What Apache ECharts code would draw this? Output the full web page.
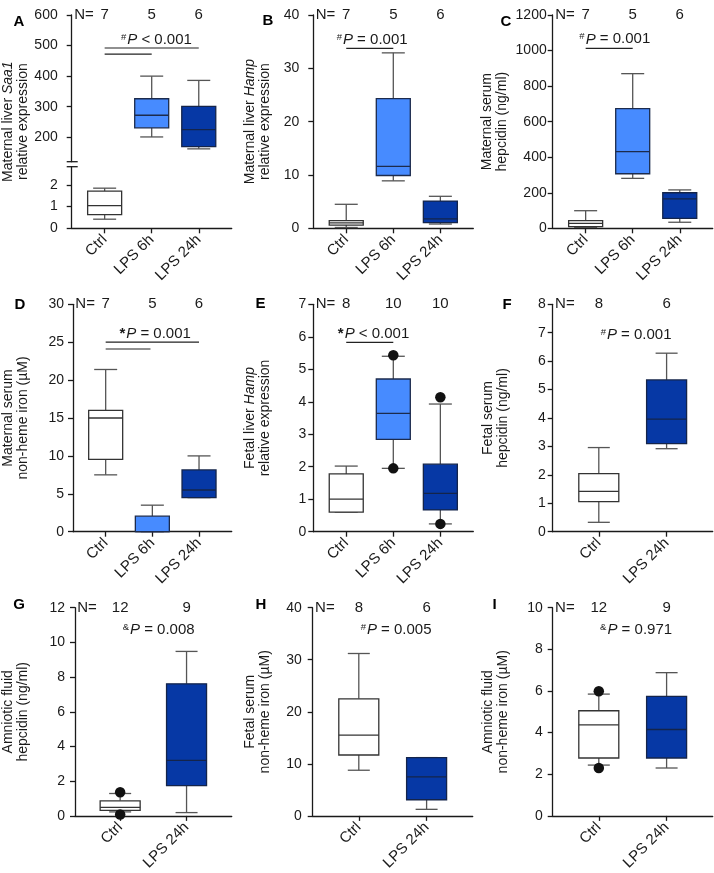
<!DOCTYPE html>
<html>
<head>
<meta charset="utf-8">
<script src="https://cdn.jsdelivr.net/npm/echarts@6/dist/echarts.min.js"></script>
<style>
  html, body { margin: 0; padding: 0; background: #fff; }
  #chart { width: 714px; height: 873px; }
</style>
</head>
<body>
<div id="chart"></div>
<script>
// ---- data ----
var groups3 = ['Ctrl', 'LPS 6h', 'LPS 24h'];
var groups2 = ['Ctrl', 'LPS 24h'];

// box values per group: [min, q1, median, q3, max]
var boxA = [[0.42, 0.63, 1.05, 1.71, 1.85], [201, 231, 272, 326, 400], [162, 169, 225, 301, 386]];
var boxB = [[0.15, 0.6, 1.0, 1.45, 4.5], [8.9, 9.9, 11.6, 24.3, 32.9], [0.8, 1.06, 1.75, 5.1, 6.0]];
var boxC = [[5, 9, 28, 43, 99], [281, 307, 431, 673, 870], [34, 56, 165, 200, 216]];
var boxD = [[7.5, 9.55, 15.0, 16.0, 21.4], [0, 0, 0, 2.05, 3.5], [4.5, 4.5, 5.5, 8.15, 10.0]];
var boxE = [[0.6, 0.6, 1.0, 1.78, 2.02], [1.95, 2.84, 3.64, 4.70, 5.4], [0.24, 0.67, 1.18, 2.08, 3.93]];
var boxF = [[0.33, 1.06, 1.42, 2.04, 2.96], [2.92, 3.10, 3.96, 5.34, 6.28]];
var boxG = [[0.23, 0.32, 0.49, 0.87, 1.29], [0.19, 1.74, 3.2, 7.61, 9.48]];
var boxH = [[8.77, 11.7, 15.5, 22.5, 31.2], [1.26, 3.1, 7.5, 11.2, 11.2]];
var boxI = [[2.44, 2.78, 4.37, 5.05, 5.85], [2.3, 2.78, 4.15, 5.74, 6.88]];

// single points drawn as dots: [group, value]
var dotsE = [[2, 5.43], [2, 1.95], [3, 4.14], [3, 0.24]];
var dotsG = [[1, 1.36], [1, 0.08]];
var dotsI = [[1, 5.99], [1, 2.3]];

// group sizes
var nA = [7, 5, 6], nB = [7, 5, 6], nC = [7, 5, 6], nD = [7, 5, 6], nE = [8, 10, 10];
var nF = [8, 6], nG = [12, 9], nH = [8, 6], nI = [12, 9];

// P value text: [marker, comparison]
var pA = ['#', '< 0.001'], pB = ['#', '= 0.001'], pC = ['#', '= 0.001'];
var pD = ['*', '= 0.001'], pE = ['*', '< 0.001'], pF = ['#', '= 0.001'];
var pG = ['&', '= 0.008'], pH = ['#', '= 0.005'], pI = ['&', '= 0.971'];

// comparison bars: [from group, to group, y]
var barsA = [[1, 3, 492], [1, 2, 472]];
var barsB = [[1, 2, 33.75]];
var barsC = [[1, 2, 1012]];
var barsD = [[1, 3, 25.0], [1, 1.96, 24.1]];
var barsE = [[1, 2, 5.83]];

// ---- styles ----
var FONT = 'Liberation Sans, Arial, sans-serif';
var AX = '#1a1a1a', TXT = '#1a1a1a', WHISK = '#555555';
var TICK_FS = 14, N_FS = 15, P_FS = 15, TITLE_FS = 14, CAT_FS = 15;
var boxStyles = [
  { fill: '#ffffff', stroke: '#333333' },
  { fill: '#478bff', stroke: '#1c2b4d' },
  { fill: '#0638a5', stroke: '#14244a' }
];

var option = {
  animation: false,
  backgroundColor: '#ffffff',
  textStyle: { fontFamily: FONT },
  grid: [], xAxis: [], yAxis: [], series: [], graphic: []
};

function xRange(k) { return k === 3 ? [0.3, 3.7] : [0.32, 2.68]; }
function catIdx(k) { return k === 3 ? [1, 2, 3] : [1, 2]; }

function addGrid(left, top, width, height) {
  option.grid.push({ left: left, top: top, width: width, height: height });
  return option.grid.length - 1;
}

function titleStyle() {
  return { fontSize: TITLE_FS, lineHeight: 15, color: TXT, fontFamily: FONT,
    rich: { i: { fontStyle: 'italic', fontSize: TITLE_FS, color: TXT, fontFamily: FONT } } };
}

function addBottomX(gi, names, visible) {
  var r = xRange(names.length), idx = catIdx(names.length);
  option.xAxis.push({
    type: 'value', gridIndex: gi, position: 'bottom', min: r[0], max: r[1], show: visible,
    axisLine: { onZero: false, lineStyle: { color: AX, width: 1.3 } },
    axisTick: { length: 5, customValues: idx, lineStyle: { color: AX, width: 1.3 } },
    axisLabel: {
      customValues: idx, rotate: 45, margin: 9, fontSize: CAT_FS, color: TXT, fontFamily: FONT,
      formatter: function (v) { return names[Math.round(v) - 1]; }
    },
    splitLine: { show: false }
  });
  return option.xAxis.length - 1;
}

function addTopX(gi, ns) {
  var k = ns.length, r = xRange(k);
  var nPos = k === 3 ? 0.56 : 0.5;
  option.xAxis.push({
    type: 'value', gridIndex: gi, position: 'top', min: r[0], max: r[1],
    axisLine: { show: false }, axisTick: { show: false }, splitLine: { show: false },
    axisLabel: {
      customValues: [nPos].concat(catIdx(k)), margin: 0, verticalAlign: 'middle',
      fontSize: N_FS, color: TXT, fontFamily: FONT,
      formatter: function (v) { return v < 0.9 ? 'N=' : String(ns[Math.round(v) - 1]); }
    }
  });
}

function addY(gi, c) {
  var ax = {
    type: 'value', gridIndex: gi, min: c.min, max: c.max,
    axisLine: { show: true, lineStyle: { color: AX, width: 1.3 } },
    axisTick: { show: true, length: 5, lineStyle: { color: AX, width: 1.3 } },
    axisLabel: { fontSize: TICK_FS, color: TXT, margin: c.margin, fontFamily: FONT,
      formatter: function (v) { return String(v); } },
    splitLine: { show: false }
  };
  if (c.interval) ax.interval = c.interval;
  if (c.ticks) { ax.axisTick.customValues = c.ticks; ax.axisLabel.customValues = c.ticks; }
  if (c.title) {
    ax.name = c.title; ax.nameLocation = 'middle'; ax.nameGap = c.gap; ax.nameRotate = 90;
    ax.nameTextStyle = titleStyle();
  }
  option.yAxis.push(ax);
  return option.yAxis.length - 1;
}

function boxSeries(xi, yi, items, boxW, capW) {
  return {
    type: 'custom', xAxisIndex: xi, yAxisIndex: yi, data: items, z: 3,
    encode: { x: 0, y: [1, 2, 3, 4, 5] },
    renderItem: function (params, api) {
      var x = api.value(0);
      var top = api.coord([x, api.value(5)]), q3 = api.coord([x, api.value(4)]);
      var med = api.coord([x, api.value(3)]), q1 = api.coord([x, api.value(2)]);
      var bot = api.coord([x, api.value(1)]);
      var cx = top[0], st = boxStyles[api.value(6)];
      var wl = { stroke: WHISK, lineWidth: 1.3 };
      return { type: 'group', children: [
        { type: 'line', shape: { x1: cx, y1: top[1], x2: cx, y2: q3[1] }, style: wl },
        { type: 'line', shape: { x1: cx - capW / 2, y1: top[1], x2: cx + capW / 2, y2: top[1] }, style: wl },
        { type: 'line', shape: { x1: cx, y1: q1[1], x2: cx, y2: bot[1] }, style: wl },
        { type: 'line', shape: { x1: cx - capW / 2, y1: bot[1], x2: cx + capW / 2, y2: bot[1] }, style: wl },
        { type: 'rect', shape: { x: cx - boxW / 2, y: q3[1], width: boxW, height: q1[1] - q3[1] },
          style: { fill: st.fill, stroke: st.stroke, lineWidth: 1.3 } },
        { type: 'line', shape: { x1: cx - boxW / 2, y1: med[1], x2: cx + boxW / 2, y2: med[1] },
          style: { stroke: st.stroke, lineWidth: 1.3 } }
      ] };
    }
  };
}

function boxItems(boxes, groupNums, colorIdx) {
  return boxes.map(function (b, i) { return [groupNums[i]].concat(b).concat([colorIdx[i]]); });
}

function addAnnot(xi, yi, p, px, py, bars, dots) {
  (bars || []).forEach(function (b) {
    option.series.push({ type: 'line', xAxisIndex: xi, yAxisIndex: yi, data: [[b[0], b[2]], [b[1], b[2]]],
      showSymbol: false, symbol: 'none', silent: true, z: 4,
      lineStyle: { color: '#222', width: 1.2 } });
  });
  var star = p[0] === '*';
  option.series.push({
    type: 'custom', xAxisIndex: xi, yAxisIndex: yi, data: [[px, py]], silent: true, z: 4,
    renderItem: function (params, api) {
      var pt = api.coord([api.value(0), api.value(1)]);
      return { type: 'text', x: pt[0], y: pt[1], style: {
        text: '{m|' + p[0] + '}{i|P}{t| ' + p[1] + '}',
        align: 'center', verticalAlign: 'middle', fill: TXT,
        rich: {
          m: { fontSize: star ? 15 : 9.5, fontWeight: star ? 'bold' : 'normal', verticalAlign: 'top',
               fill: TXT, fontFamily: FONT, padding: [0, 1, 0, 0] },
          i: { fontSize: P_FS, fontStyle: 'italic', fill: TXT, fontFamily: FONT },
          t: { fontSize: P_FS, fill: TXT, fontFamily: FONT }
        }
      } };
    }
  });
  if (dots && dots.length) {
    option.series.push({ type: 'scatter', xAxisIndex: xi, yAxisIndex: yi, data: dots, symbolSize: 10.5,
      silent: true, z: 6, itemStyle: { color: '#111111', opacity: 1 } });
  }
}

function panel(c) {
  var k = c.groups.length;
  var gi = addGrid(c.left, c.top, 160, c.bottom - c.top);
  var xi = addBottomX(gi, c.groups, true);
  addTopX(gi, c.n);
  var yi = addY(gi, { min: 0, max: c.max, interval: c.interval, margin: c.margin, title: c.title, gap: c.gap });
  var nums = catIdx(k), cols = k === 3 ? [0, 1, 2] : [0, 2];
  option.series.push(boxSeries(xi, yi, boxItems(c.boxes, nums, cols), k === 3 ? 34 : 40, k === 3 ? 23 : 22));
  addAnnot(xi, yi, c.p, c.px, c.py, c.bars, c.dots);
}

// ---- panel A: broken y axis ----
(function () {
  var left = 71.7, top = 15, brk1 = 161.7, brk2 = 166.7, bottom = 228.3;
  // title holder spanning both parts
  var ga = addGrid(left, top, 160, bottom - top);
  option.xAxis.push({ type: 'value', gridIndex: ga, show: false, min: 0, max: 1 });
  option.yAxis.push({ type: 'value', gridIndex: ga, min: 0, max: 1,
    axisLine: { show: false }, axisTick: { show: false }, axisLabel: { show: false }, splitLine: { show: false },
    name: 'Maternal liver {i|Saa1}\nrelative expression', nameLocation: 'middle', nameGap: 44, nameRotate: 90,
    nameTextStyle: titleStyle() });

  var gu = addGrid(left, top, 160, brk1 - top);
  var xu = addBottomX(gu, groups3, false);
  addTopX(gu, nA);
  var yu = addY(gu, { min: 120, max: 600, ticks: [200, 300, 400, 500, 600], margin: 14 });
  option.series.push(boxSeries(xu, yu, boxItems(boxA.slice(1), [2, 3], [1, 2]), 34, 23));
  addAnnot(xu, yu, pA, 2.1, 520, barsA, []);

  var gl = addGrid(left, brk2, 160, bottom - brk2);
  var xl = addBottomX(gl, groups3, true);
  var yl = addY(gl, { min: 0, max: 2.84, ticks: [0, 1, 2], margin: 14 });
  option.series.push(boxSeries(xl, yl, boxItems(boxA.slice(0, 1), [1], [0]), 34, 23));

  [brk1, brk2].forEach(function (y) {
    option.graphic.push({ type: 'line', shape: { x1: left - 5, y1: y, x2: left + 6, y2: y },
      style: { stroke: AX, lineWidth: 1.3 } });
  });
})();

panel({ left: 313.3, top: 15, bottom: 228.3, groups: groups3, n: nB, boxes: boxB, max: 40, interval: 10, margin: 14,
  title: 'Maternal liver {i|Hamp}\nrelative expression', gap: 41, p: pB, px: 1.55, py: 35.4, bars: barsB });
panel({ left: 552.7, top: 15, bottom: 228.3, groups: groups3, n: nC, boxes: boxC, max: 1200, interval: 200, margin: 6,
  title: 'Maternal serum\nhepcidin (ng/ml)', gap: 43, p: pC, px: 1.62, py: 1063, bars: barsC });
panel({ left: 71.7, top: 304.3, bottom: 531.7, groups: groups3, n: nD, boxes: boxD, max: 30, interval: 5, margin: 9,
  title: 'Maternal serum\nnon-heme iron (µM)', gap: 42, p: pD, px: 2.06, py: 26.04, bars: barsD });
panel({ left: 313.3, top: 304.3, bottom: 531.7, groups: groups3, n: nE, boxes: boxE, max: 7, interval: 1, margin: 7,
  title: 'Fetal liver {i|Hamp}\nrelative expression', gap: 41, p: pE, px: 1.58, py: 6.08, bars: barsE, dots: dotsE });
panel({ left: 552.7, top: 304.3, bottom: 531.7, groups: groups2, n: nF, boxes: boxF, max: 8, interval: 1, margin: 7,
  title: 'Fetal serum\nhepcidin (ng/ml)', gap: 42, p: pF, px: 1.55, py: 6.94 });
panel({ left: 71.7, top: 607.7, bottom: 819, groups: groups2, n: nG, boxes: boxG, max: 12, interval: 2, margin: 10,
  title: 'Amniotic fluid\nhepcidin (ng/ml)', gap: 44, p: pG, px: 1.58, py: 10.73, dots: dotsG });
panel({ left: 312.7, top: 607.7, bottom: 819, groups: groups2, n: nH, boxes: boxH, max: 40, interval: 10, margin: 11,
  title: 'Fetal serum\nnon-heme iron (µM)', gap: 40, p: pH, px: 1.55, py: 35.8 });
panel({ left: 552.7, top: 607.7, bottom: 819, groups: groups2, n: nI, boxes: boxI, max: 10, interval: 2, margin: 10,
  title: 'Amniotic fluid\nnon-heme iron (µM)', gap: 42, p: pI, px: 1.55, py: 8.94, dots: dotsI });

// panel letters
[['A', 19, 21.5], ['B', 268, 20.5], ['C', 506, 22], ['D', 20, 304.5], ['E', 260.5, 304],
 ['F', 507, 304.5], ['G', 19, 605], ['H', 261, 605], ['I', 494.5, 605]].forEach(function (l) {
  option.graphic.push({ type: 'text', x: l[1], y: l[2],
    style: { text: l[0], font: 'bold 15px ' + FONT, fill: '#000', align: 'center', verticalAlign: 'middle' } });
});

var chart = echarts.init(document.getElementById('chart'), null, { renderer: 'canvas' });
chart.setOption(option);
</script>
</body>
</html>
